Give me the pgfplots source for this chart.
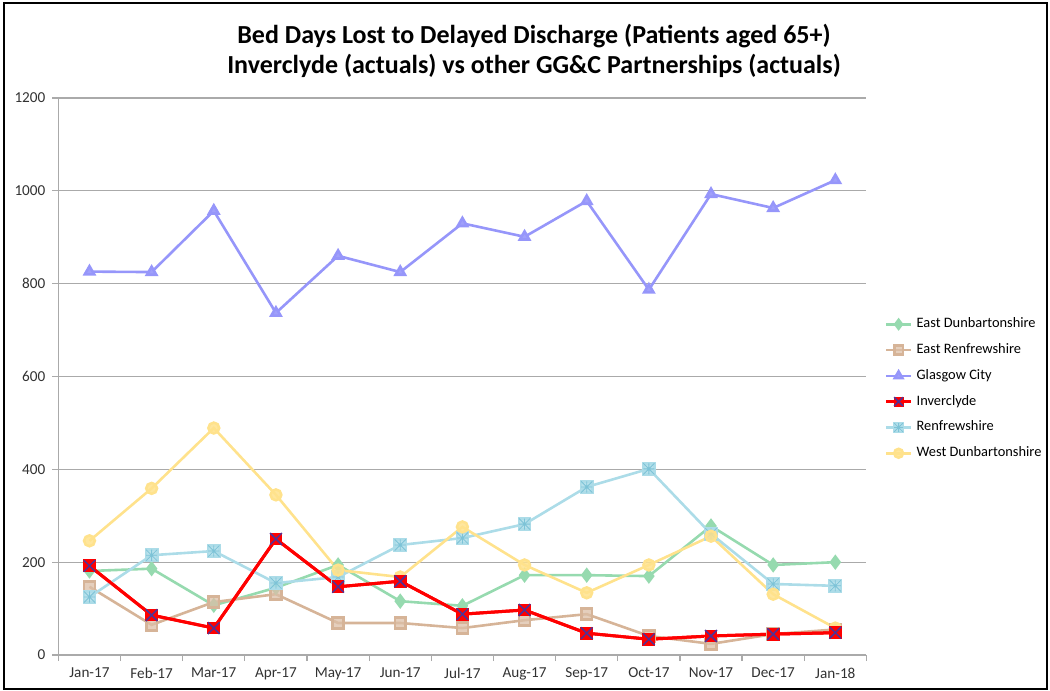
\documentclass[border=0pt]{standalone}
\usepackage{pgfplots}
\pgfplotsset{compat=1.18}
\usepackage{fontspec}
\setmainfont{Carlito}
\definecolor{edc}{RGB}{150,218,175}
\definecolor{erc}{RGB}{214,180,152}
\definecolor{gcc}{RGB}{150,150,250}
\definecolor{invc}{RGB}{255,0,0}
\definecolor{invx}{RGB}{80,50,150}
\definecolor{rfc}{RGB}{172,220,232}
\definecolor{rfx}{RGB}{125,195,215}
\definecolor{wdc}{RGB}{255,226,140}
\definecolor{gridc}{RGB}{170,170,170}
\definecolor{txt}{RGB}{50,50,50}
\pgfdeclareplotmark{sqx}{%
  \pgfpathrectangle{\pgfqpoint{-\pgfplotmarksize}{-\pgfplotmarksize}}{\pgfqpoint{2\pgfplotmarksize}{2\pgfplotmarksize}}%
  \pgfusepathqfillstroke
  \pgfscope
  \pgfsetstrokecolor{invx}\pgfsetlinewidth{0.75pt}%
  \pgfpathmoveto{\pgfqpoint{-\pgfplotmarksize}{-\pgfplotmarksize}}%
  \pgfpathlineto{\pgfqpoint{\pgfplotmarksize}{\pgfplotmarksize}}%
  \pgfpathmoveto{\pgfqpoint{-\pgfplotmarksize}{\pgfplotmarksize}}%
  \pgfpathlineto{\pgfqpoint{\pgfplotmarksize}{-\pgfplotmarksize}}%
  \pgfusepathqstroke
  \endpgfscope
}
\pgfdeclareplotmark{sqstar}{%
  \pgfpathrectangle{\pgfqpoint{-\pgfplotmarksize}{-\pgfplotmarksize}}{\pgfqpoint{2\pgfplotmarksize}{2\pgfplotmarksize}}%
  \pgfusepathqfillstroke
  \pgfscope
  \pgfsetstrokecolor{rfx}\pgfsetlinewidth{0.4pt}%
  \pgfpathmoveto{\pgfqpoint{-\pgfplotmarksize}{-\pgfplotmarksize}}%
  \pgfpathlineto{\pgfqpoint{\pgfplotmarksize}{\pgfplotmarksize}}%
  \pgfpathmoveto{\pgfqpoint{-\pgfplotmarksize}{\pgfplotmarksize}}%
  \pgfpathlineto{\pgfqpoint{\pgfplotmarksize}{-\pgfplotmarksize}}%
  \pgfpathmoveto{\pgfqpoint{0pt}{-\pgfplotmarksize}}%
  \pgfpathlineto{\pgfqpoint{0pt}{\pgfplotmarksize}}%
  \pgfpathmoveto{\pgfqpoint{-\pgfplotmarksize}{0pt}}%
  \pgfpathlineto{\pgfqpoint{\pgfplotmarksize}{0pt}}%
  \pgfusepathqstroke
  \endpgfscope
}
\begin{document}
\begin{tikzpicture}
\useasboundingbox (0,0) rectangle (525pt,-345.5pt);
\draw[black, line width=1.3pt] (2pt,-1.5pt) rectangle (523.5pt,-344.5pt);
\node[font=\bfseries\fontsize{13pt}{14pt}\selectfont, align=center, text=black] at (267pt,-25.5pt)
  {Bed Days Lost to Delayed Discharge (Patients aged 65+)\\[1pt]Inverclyde (actuals) vs other GG\&C Partnerships (actuals)};
\begin{axis}[
  at={(29.2pt,-327.5pt)}, anchor=south west,
  scale only axis, width=404pt, height=278.5pt,
  xmin=-0.5, xmax=12.5, ymin=0, ymax=1200,
  xtick={0,...,12},
  xticklabels={Jan-17,Feb-17,Mar-17,Apr-17,May-17,Jun-17,Jul-17,Aug-17,Sep-17,Oct-17,Nov-17,Dec-17,Jan-18},
  major x tick style={draw=none},
  minor xtick={-0.5,0.5,...,12.5},
  minor x tick style={gridc, line width=0.6pt},
  ytick={0,200,...,1200},
  ymajorgrids, grid style={gridc, line width=0.6pt},
  axis x line*=bottom, axis y line*=left,
  axis line style={gridc, line width=0.6pt, -},
  tick align=outside, major tick length=3pt, minor tick length=3pt,
  y tick style={gridc, line width=0.6pt},
  ticklabel style={font=\fontsize{7.6pt}{9pt}\selectfont, text=txt},
  /pgf/number format/assume math mode=true,
  scaled y ticks=false, yticklabel style={/pgf/number format/1000 sep={}},
  legend style={at={(1.022,0.478)}, anchor=west, draw=none, fill=none,
    font=\fontsize{7.2pt}{8.5pt}\selectfont, row sep=2.4pt, inner sep=0pt},
  legend cell align=left,
  legend image code/.code={%
    \draw[mark repeat=2,mark phase=2,mark size=2.2pt] plot coordinates {(0cm,0cm) (0.22cm,0cm) (0.44cm,0cm)};},
]
\addplot[edc, line width=1.3pt, mark=diamond*, mark size=2.8pt, mark options={fill=edc, draw=edc}] coordinates {
(0,181) (1,186) (2,107) (3,145) (4,194) (5,116) (6,106) (7,172) (8,172) (9,170) (10,278) (11,194) (12,200)};
\addlegendentry{East Dunbartonshire}
\addplot[erc, line width=1.3pt, mark=square*, mark size=2.7pt, mark options={fill=erc!85, draw=erc, fill opacity=0.75}] coordinates {
(0,147) (1,65) (2,114) (3,131) (4,69) (5,69) (6,58) (7,75) (8,88) (9,41) (10,24) (11,45) (12,55)};
\addlegendentry{East Renfrewshire}
\addplot[gcc, line width=1.3pt, mark=triangle*, mark size=2.7pt, mark options={fill=gcc!90, draw=gcc}] coordinates {
(0,826) (1,825) (2,957) (3,737) (4,860) (5,825) (6,930) (7,901) (8,978) (9,787) (10,993) (11,963) (12,1023)};
\addlegendentry{Glasgow City}
\addplot[invc, line width=1.5pt, mark=sqx, mark size=2.9pt, mark options={fill=invc, draw=invc, line width=0.6pt}] coordinates {
(0,192) (1,86) (2,58) (3,250) (4,147) (5,159) (6,88) (7,97) (8,47) (9,34) (10,41) (11,45) (12,48)};
\addlegendentry{Inverclyde}
\addplot[rfc, line width=1.3pt, mark=sqstar, mark size=2.8pt, mark options={fill=rfc, draw=rfc, fill opacity=0.85}] coordinates {
(0,125) (1,215) (2,224) (3,155) (4,168) (5,237) (6,252) (7,282) (8,362) (9,401) (10,261) (11,153) (12,149)};
\addlegendentry{Renfrewshire}
\addplot[wdc, line width=1.3pt, mark=*, mark size=2.7pt, mark options={fill=wdc, draw=wdc, fill opacity=0.85}] coordinates {
(0,246) (1,359) (2,489) (3,345) (4,183) (5,168) (6,276) (7,194) (8,134) (9,194) (10,256) (11,131) (12,58)};
\addlegendentry{West Dunbartonshire}
\addplot[forget plot, invc, line width=1.5pt, mark=sqx, mark size=2.9pt, mark options={fill=invc, draw=invc, line width=0.6pt}] coordinates {
(0,192) (1,86) (2,58) (3,250) (4,147) (5,159) (6,88) (7,97) (8,47) (9,34) (10,41) (11,45) (12,48)};
\end{axis}
\end{tikzpicture}
\end{document}
